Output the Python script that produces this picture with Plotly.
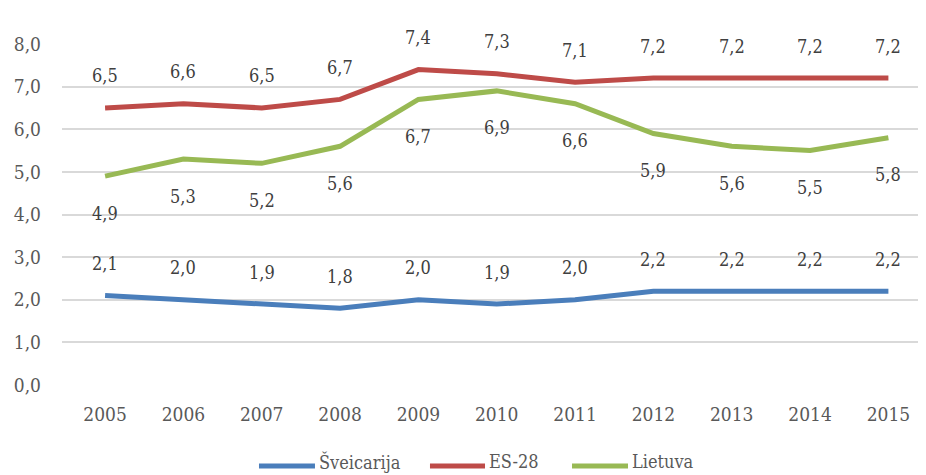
import plotly.graph_objects as go

years = [2005, 2006, 2007, 2008, 2009, 2010, 2011, 2012, 2013, 2014, 2015]
sveicarija = [2.1, 2.0, 1.9, 1.8, 2.0, 1.9, 2.0, 2.2, 2.2, 2.2, 2.2]
es28 = [6.5, 6.6, 6.5, 6.7, 7.4, 7.3, 7.1, 7.2, 7.2, 7.2, 7.2]
lietuva = [4.9, 5.3, 5.2, 5.6, 6.7, 6.9, 6.6, 5.9, 5.6, 5.5, 5.8]
y_ticks = [0, 1, 2, 3, 4, 5, 6, 7, 8]
series_names = ["Šveicarija", "ES-28", "Lietuva"]

FONT = "DejaVu Serif Condensed, DejaVu Serif, serif"
GRAY = "#595959"
COLORS = ["#4A7EBB", "#BE4B48", "#98B954"]
LABEL_SHIFT = [32, 32, -37]
# legend placement (paper coords): line start, line end, text start
LEG_POS = [(0.228, 0.2928, 0.2951), (0.4259, 0.4896, 0.4919), (0.5903, 0.6551, 0.6574)]
LEG_LINE_Y = -0.2375
LEG_TEXT_Y = -0.2255

fig = go.Figure()
annotations = []
shapes = []
for name, vals, color, shift, (x0, x1, xt) in zip(
        series_names, [sveicarija, es28, lietuva], COLORS, LABEL_SHIFT, LEG_POS):
    fig.add_trace(go.Scatter(x=years, y=vals, mode="lines", name=name,
                             line=dict(color=color, width=5), showlegend=False))
    for x, v in zip(years, vals):
        annotations.append(dict(x=x, y=v, xref="x", yref="y", yshift=shift,
                                text=f"{v:.1f}".replace(".", ","), showarrow=False,
                                font=dict(family=FONT, size=18, color="#404040")))
    shapes.append(dict(type="line", xref="paper", yref="paper", x0=x0, x1=x1,
                       y0=LEG_LINE_Y, y1=LEG_LINE_Y, line=dict(color=color, width=5)))
    annotations.append(dict(x=xt, y=LEG_TEXT_Y, xref="paper", yref="paper", xanchor="left",
                            yanchor="middle", text=name, showarrow=False,
                            font=dict(family=FONT, size=18, color=GRAY)))

# page has an 8px body margin, so the figure is drawn 8px smaller
fig.update_layout(
    width=918, height=467,
    margin=dict(l=54, r=0, t=36, b=90, autoexpand=False),
    paper_bgcolor="white", plot_bgcolor="white",
    font=dict(family=FONT, size=19, color=GRAY),
    separators=",.",
    annotations=annotations,
    shapes=shapes,
    showlegend=False,
    xaxis=dict(range=[2004.45, 2015.48], tickvals=years, showgrid=False, showline=False,
               zeroline=False, ticks="", ticklabelstandoff=16,
               tickfont=dict(family=FONT, size=19, color=GRAY)),
    yaxis=dict(range=[0, 8], tickvals=y_ticks, tickformat=".1f", showgrid=True,
               gridcolor="#D9D9D9", gridwidth=1.5, zeroline=False, showline=False,
               ticks="", ticklabelstandoff=20,
               tickfont=dict(family=FONT, size=19, color=GRAY)),
)

fig.write_html("out.html")
